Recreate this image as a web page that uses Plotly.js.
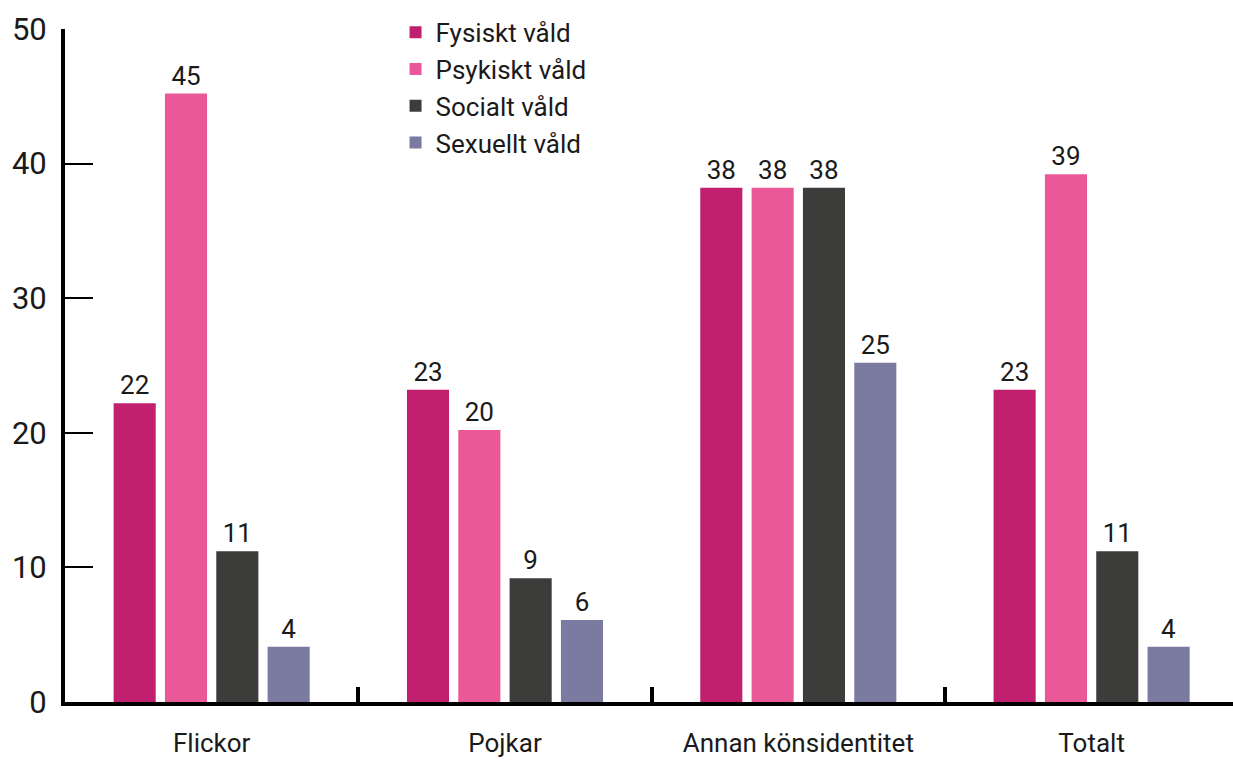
<!DOCTYPE html>
<html>
<head>
<meta charset="utf-8">
<script src="https://cdn.plot.ly/plotly-3.0.1.min.js"></script>
<style>html,body{margin:0;padding:0;background:#fff;}#chart{width:1233px;height:760px;}</style>
</head>
<body>
<div id="chart"></div>
<script>
const categories = ["Flickor", "Pojkar", "Annan könsidentitet", "Totalt"];
const seriesNames = ["Fysiskt våld", "Psykiskt våld", "Socialt våld", "Sexuellt våld"];
const fysiskt = [22.2, 23.2, 38.2, 23.2];
const psykiskt = [45.2, 20.2, 38.2, 39.2];
const socialt = [11.2, 9.2, 38.2, 11.2];
const sexuellt = [4.1, 6.1, 25.2, 4.1];
const yTicks = [0, 10, 20, 30, 40, 50];

const colors = ["#C1206F", "#EA5898", "#3C3C3B", "#7B7AA0"];
const values = [fysiskt, psykiskt, socialt, sexuellt];
const FONT = "Roboto, 'Noto Sans', sans-serif";

const traces = values.map((v, i) => ({
  type: "bar",
  name: seriesNames[i],
  x: categories,
  y: v,
  marker: { color: colors[i] },
  texttemplate: "%{y:.0f}",
  textposition: "outside",
  cliponaxis: false,
  textfont: { family: FONT, size: 26, color: "#1a1a1a" },
  hoverinfo: "x+y+name"
}));

const layout = {
  width: 1233,
  height: 760,
  margin: { l: 65, r: 0, t: 29, b: 58 },
  paper_bgcolor: "#ffffff",
  plot_bgcolor: "#ffffff",
  font: { family: FONT, color: "#1a1a1a" },
  barmode: "group",
  bargap: 0.30,
  bargroupgap: 0.18,
  showlegend: true,
  legend: {
    x: 0.283, y: 1.03, xanchor: "left", yanchor: "top",
    font: { family: FONT, size: 26, color: "#1a1a1a" },
    bgcolor: "rgba(0,0,0,0)",
    traceorder: "normal"
  },
  xaxis: {
    type: "category",
    range: [-0.5, 3.482],
    showline: true, linecolor: "#000", linewidth: 4,
    ticks: "inside", tickson: "boundaries", ticklen: 15, tickwidth: 4, tickcolor: "#000",
    showgrid: false, zeroline: false,
    tickfont: { family: FONT, size: 26, color: "#1a1a1a" },
    ticklabelstandoff: 15
  },
  yaxis: {
    range: [0, 50],
    tickvals: yTicks,
    ticktext: yTicks.map(String),
    showline: true, linecolor: "#000", linewidth: 4,
    ticks: "inside", ticklen: 28, tickwidth: 2, tickcolor: "#000",
    showgrid: false, zeroline: false,
    tickfont: { family: FONT, size: 31, color: "#1a1a1a" },
    ticklabelstandoff: 8
  }
};

Plotly.newPlot("chart", traces, layout, { displayModeBar: false, staticPlot: true });
</script>
</body>
</html>
